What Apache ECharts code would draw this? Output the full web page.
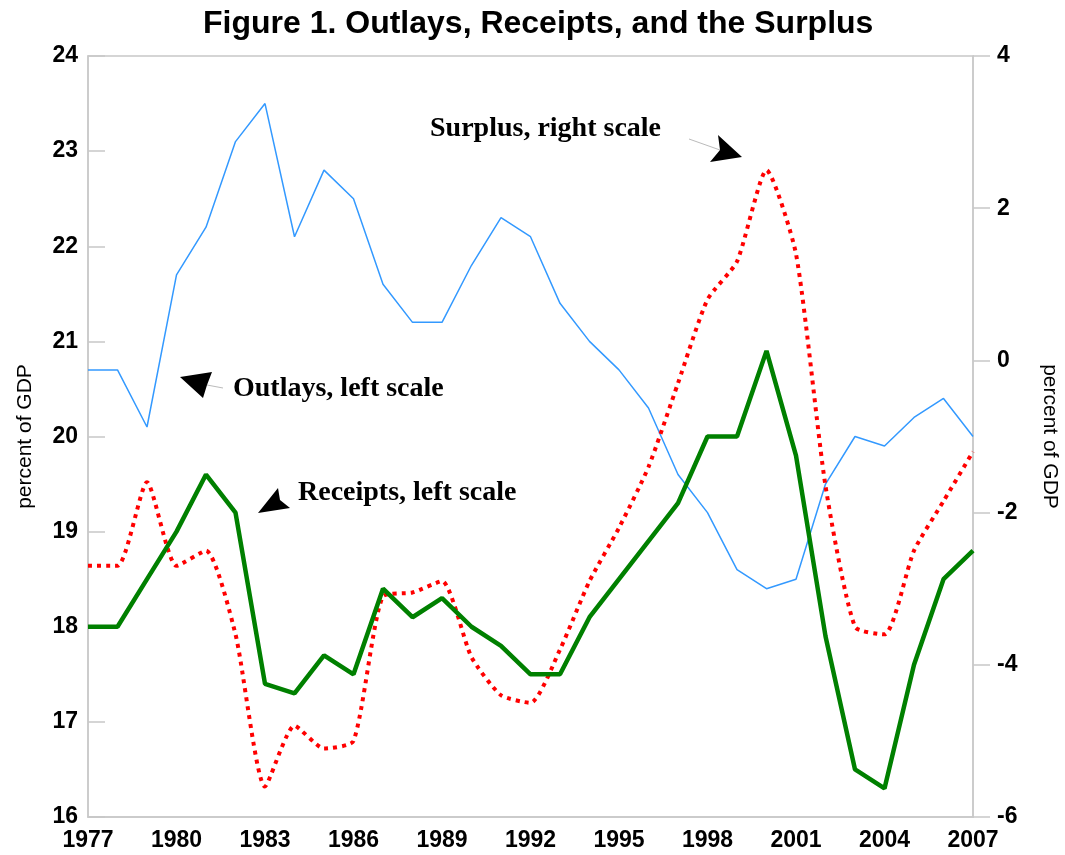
<!DOCTYPE html>
<html>
<head>
<meta charset="utf-8">
<script src="https://cdn.jsdelivr.net/npm/echarts@6/dist/echarts.min.js"></script>
<style>
  html, body { margin: 0; padding: 0; background: #fff; }
  #chart { width: 1065px; height: 855px; }
</style>
</head>
<body>
<div id="chart"></div>
<script>
// years on the x axis
var years = [];
for (var y = 1977; y <= 2007; y++) years.push(String(y));

// outlays, percent of GDP (left scale)
var outlays = [20.7, 20.7, 20.1, 21.7, 22.2, 23.1, 23.5, 22.1, 22.8, 22.5,
  21.6, 21.2, 21.2, 21.8, 22.3, 22.1, 21.4, 21.0, 20.7, 20.3,
  19.6, 19.2, 18.6, 18.4, 18.5, 19.5, 20.0, 19.9, 20.2, 20.4, 20.0];

// receipts, percent of GDP (left scale)
var receipts = [18.0, 18.0, 18.5, 19.0, 19.6, 19.2, 17.4, 17.3, 17.7, 17.5,
  18.4, 18.1, 18.3, 18.0, 17.8, 17.5, 17.5, 18.1, 18.5, 18.9,
  19.3, 20.0, 20.0, 20.9, 19.8, 17.9, 16.5, 16.3, 17.6, 18.5, 18.8];

// surplus, percent of GDP (right scale)
var surplus = [-2.7, -2.7, -1.6, -2.7, -2.5, -3.6, -5.6, -4.8, -5.1, -5.0,
  -3.1, -3.05, -2.9, -3.9, -4.4, -4.5, -3.8, -2.9, -2.2, -1.4,
  -0.3, 0.8, 1.3, 2.5, 1.4, -1.65, -3.5, -3.6, -2.5, -1.85, -1.2];

var axisGray = "#c8c8c8";
var numFont = "Liberation Sans, Arial, sans-serif";
var noteFont = "Liberation Serif, Times New Roman, serif";

var myChart = echarts.init(document.getElementById("chart"));

var option = {
  backgroundColor: "#fff",
  animation: false,
  title: {
    text: "Figure 1. Outlays, Receipts, and the Surplus",
    left: 198,
    top: 3,
    textStyle: { fontFamily: numFont, fontWeight: "bold", fontSize: 32, color: "#000" }
  },
  grid: {
    left: 88,
    right: 92,
    top: 56,
    bottom: 38,
    outerBoundsMode: "none",
    containLabel: false,
    show: true,
    borderColor: axisGray,
    borderWidth: 1.5
  },
  xAxis: {
    type: "category",
    data: years,
    boundaryGap: false,
    axisLine: { onZero: false, lineStyle: { color: axisGray, width: 1.5 } },
    axisTick: { show: false },
    axisLabel: {
      interval: 2,
      margin: 12,
      color: "#000",
      fontFamily: numFont,
      fontWeight: "bold",
      fontSize: 23
    },
    splitLine: { show: false }
  },
  yAxis: [
    {
      type: "value",
      min: 16,
      max: 24,
      interval: 1,
      name: "percent of GDP",
      nameLocation: "middle",
      nameGap: 52,
      nameTextStyle: { fontFamily: numFont, fontSize: 21, color: "#000" },
      axisLine: { show: true, lineStyle: { color: axisGray, width: 1.5 } },
      axisTick: { show: true, inside: true, length: 17, lineStyle: { color: axisGray, width: 1.5 } },
      axisLabel: { margin: 10, color: "#000", fontFamily: numFont, fontWeight: "bold", fontSize: 23 },
      splitLine: { show: false }
    },
    {
      type: "value",
      min: -6,
      max: 4,
      interval: 2,
      position: "right",
      name: "percent of GDP",
      nameLocation: "middle",
      nameRotate: -90,
      nameGap: 66,
      nameTextStyle: { fontFamily: numFont, fontSize: 21, color: "#000" },
      axisLine: { show: true, lineStyle: { color: axisGray, width: 1.5 } },
      axisTick: { show: true, inside: false, length: 17, lineStyle: { color: axisGray, width: 1.5 } },
      axisLabel: { margin: 24, color: "#000", fontFamily: numFont, fontWeight: "bold", fontSize: 23 },
      splitLine: { show: false }
    }
  ],
  series: [
    {
      name: "Outlays",
      type: "line",
      yAxisIndex: 0,
      data: outlays,
      symbol: "none",
      lineStyle: { color: "#3399ff", width: 1.5 }
    },
    {
      name: "Surplus",
      type: "line",
      yAxisIndex: 1,
      data: surplus,
      symbol: "none",
      smooth: 0.2,
      lineStyle: { color: "#ff0000", width: 4, type: [4, 5] }
    },
    {
      name: "Receipts",
      type: "line",
      yAxisIndex: 0,
      data: receipts,
      symbol: "none",
      lineStyle: { color: "#008000", width: 4.5 }
    }
  ],
  graphic: [
    { type: "text", left: 430, top: 115, style: { text: "Surplus, right scale", font: "bold 28px " + noteFont, fill: "#000" } },
    { type: "line", shape: { x1: 689, y1: 139, x2: 720, y2: 150 }, style: { stroke: "#bbb", lineWidth: 1 } },
    { type: "polygon", shape: { points: [[742, 157], [718, 135], [720, 150], [710, 162]] }, style: { fill: "#000" } },

    { type: "text", left: 233, top: 375, style: { text: "Outlays, left scale", font: "bold 28px " + noteFont, fill: "#000" } },
    { type: "line", shape: { x1: 207, y1: 385, x2: 223, y2: 388 }, style: { stroke: "#bbb", lineWidth: 1 } },
    { type: "polygon", shape: { points: [[180, 377], [212, 372], [207, 385], [203, 398]] }, style: { fill: "#000" } },

    { type: "text", left: 298, top: 479, style: { text: "Receipts, left scale", font: "bold 28px " + noteFont, fill: "#000" } },
    { type: "polygon", shape: { points: [[258, 513], [278, 488], [280, 500], [290, 508]] }, style: { fill: "#000" } }
  ]
};

myChart.setOption(option);
</script>
</body>
</html>
